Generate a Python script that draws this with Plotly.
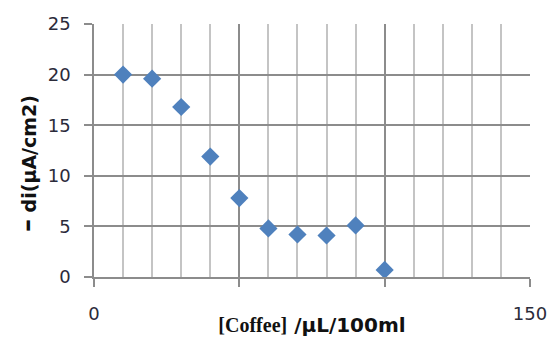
import plotly.graph_objects as go

coffee = [10, 20, 30, 40, 50, 60, 70, 80, 90, 100]
di = [20.0, 19.6, 16.8, 11.9, 7.8, 4.8, 4.2, 4.1, 5.1, 0.7]
x_tickvals = [0, 50, 100, 150]
x_ticktext = ["0", "", "", "150"]
y_tickvals = [0, 5, 10, 15, 20, 25]

major = "#8c8c8c"
minor = "#c4c4c4"
tickfont = dict(family="DejaVu Sans", size=18, color="#2b2b3a")

fig = go.Figure()
fig.add_trace(go.Scatter(
    x=coffee, y=di, mode="markers",
    marker=dict(symbol="diamond", size=14, color="#4f81bd",
                line=dict(width=0)),
    showlegend=False,
))

fig.update_layout(
    width=553, height=337,
    margin=dict(l=94, r=23, t=24, b=60),
    paper_bgcolor="white", plot_bgcolor="white",
    xaxis=dict(
        range=[0, 150], tickvals=x_tickvals, ticktext=x_ticktext,
        automargin=False,
        showgrid=True, gridcolor=major, gridwidth=1.5,
        minor=dict(dtick=10, tick0=0, showgrid=True, gridcolor=minor, gridwidth=1.5, ticks=""),
        showline=True, linecolor=major, linewidth=1.5,
        ticks="outside", ticklen=8, tickcolor=major, tickwidth=1.5,
        tickfont=tickfont, ticklabelstandoff=12,
        zeroline=False,
        title=dict(
            text="<b><span style='font-family:Liberation Serif'>[Coffee]</span> /µL/100ml</b>",
            font=dict(family="DejaVu Sans", size=20, color="#111"),
            standoff=0,
        ),
    ),
    yaxis=dict(
        range=[0, 25], tickvals=y_tickvals,
        automargin=False,
        showgrid=True, gridcolor=major, gridwidth=1.5,
        showline=True, linecolor=major, linewidth=1.5,
        ticks="outside", ticklen=8, tickcolor=major, tickwidth=1.5,
        tickfont=tickfont, ticklabelstandoff=10,
        zeroline=False,
    ),
    annotations=[dict(
        text="<b><span style='font-size:26px'>–</span> di(µA/cm2)</b>",
        textangle=-90, showarrow=False,
        xref="paper", yref="paper",
        x=(27 - 94) / 436, y=(277 - 164) / 253,
        xanchor="center", yanchor="middle",
        font=dict(family="DejaVu Sans", size=19, color="#111"),
    )],
)

fig.write_html("out.html")
